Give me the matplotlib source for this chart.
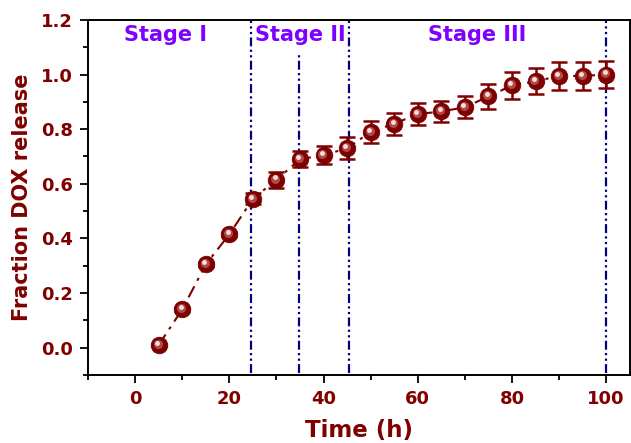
import matplotlib
matplotlib.use("Agg")
import matplotlib.pyplot as plt
from matplotlib.ticker import MultipleLocator, FormatStrFormatter
import matplotlib.transforms as mtransforms

plt.rcParams['font.family'] = ['DejaVu Sans']
plt.rcParams['font.weight'] = 'bold'

time_h = [5, 10, 15, 20, 25, 30, 35, 40, 45, 50, 55, 60, 65, 70, 75, 80, 85, 90, 95, 100]
release = [0.01, 0.14, 0.305, 0.415, 0.545, 0.615, 0.69, 0.705, 0.73, 0.79, 0.82, 0.855,
           0.865, 0.88, 0.92, 0.96, 0.975, 0.995, 0.995, 1.0]
error = [0.005, 0.008, 0.008, 0.01, 0.02, 0.03, 0.03, 0.033, 0.04, 0.04, 0.04, 0.04,
         0.04, 0.04, 0.045, 0.048, 0.048, 0.05, 0.05, 0.05]
stage_lines = [24.5, 34.7, 45.3, 100]
stage_line_tops = [1.2, 1.08, 1.2, 1.2]
stage_labels = ["Stage I", "Stage II", "Stage III"]
stage_label_x = [6.5, 35, 72.5]

dark_red = '#800000'
fig = plt.figure(figsize=(6.31, 4.43), dpi=100)
ax = fig.add_axes([0.1395, 0.1535, 0.8585, 0.8015])

for xv, top in zip(stage_lines, stage_line_tops):
    ax.plot([xv, xv], [-0.093, top], color='#000080', lw=1.6,
            linestyle=(0, (4, 1.5, 1, 1.5, 1, 1.5)), zorder=1)

ax.plot(time_h, release, color=dark_red, lw=1.5, linestyle=(0, (6, 3, 1.5, 3)), zorder=2)
ax.errorbar(time_h, release, yerr=error, fmt='none', ecolor=dark_red, elinewidth=1.8,
            capsize=5.5, capthick=1.8, zorder=3)
ax.plot(time_h, release, 'o', ms=12, color=dark_red, mec='#6a0000', mew=0.5, zorder=4)
off1 = mtransforms.offset_copy(ax.transData, fig=fig, x=-0.8, y=0.8, units='points')
ax.plot(time_h, release, 'o', ms=6.5, color='#b04a4a', mew=0, transform=off1, zorder=5)
off2 = mtransforms.offset_copy(ax.transData, fig=fig, x=-1.2, y=1.6, units='points')
ax.plot(time_h, release, 'o', ms=3.5, color='#f4dede', mew=0, transform=off2, zorder=6)

for lbl, xv in zip(stage_labels, stage_label_x):
    ax.text(xv, 1.145, lbl, color='#8000ff', fontsize=15, fontweight='bold',
            ha='center', va='center')

ax.set_xlim(-10, 105)
ax.set_ylim(-0.1, 1.2)
ax.xaxis.set_major_locator(MultipleLocator(20))
ax.xaxis.set_minor_locator(MultipleLocator(10))
ax.yaxis.set_major_locator(MultipleLocator(0.2))
ax.yaxis.set_minor_locator(MultipleLocator(0.1))
ax.yaxis.set_major_formatter(FormatStrFormatter('%.1f'))
ax.tick_params(which='both', direction='out', top=False, right=False, width=1.3)
ax.tick_params(which='major', length=6, labelsize=13, labelcolor=dark_red, pad=5)
ax.tick_params(which='minor', length=3.5)
for lab in ax.get_xticklabels() + ax.get_yticklabels():
    lab.set_fontweight('bold')
for s in ax.spines.values():
    s.set_linewidth(1.4)

ax.set_xlabel('Time (h)', fontsize=16.5, fontweight='bold', color=dark_red, labelpad=8)
ax.set_ylabel('Fraction DOX release', fontsize=15, fontweight='bold', color=dark_red, labelpad=6)

fig.savefig('out.png', dpi=100)
